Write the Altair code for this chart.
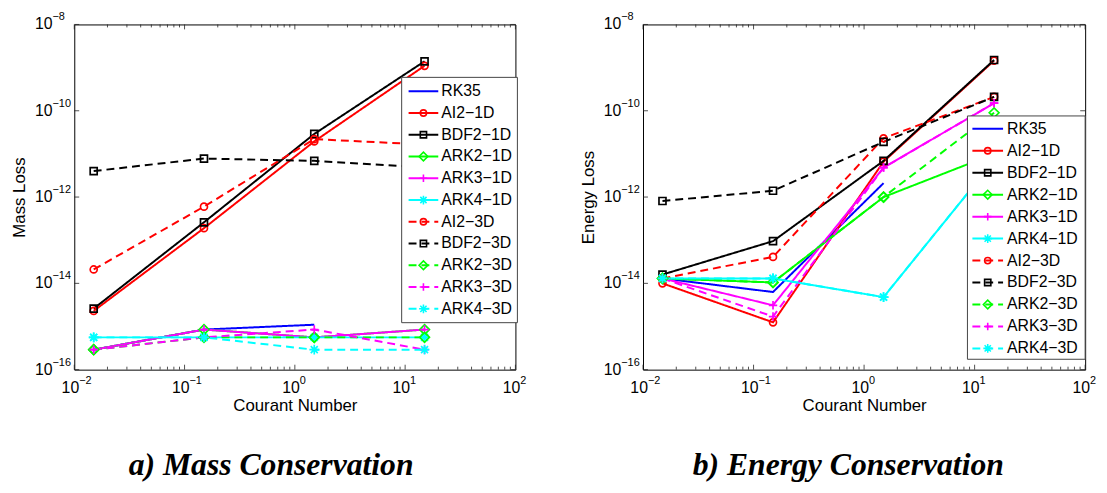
import altair as alt
import pandas as pd

# ---------------- data ----------------
COURANT = [0.015, 0.15, 1.5, 15]

SERIES = ["RK35", "AI2−1D", "BDF2−1D", "ARK2−1D", "ARK3−1D", "ARK4−1D",
          "AI2−3D", "BDF2−3D", "ARK2−3D", "ARK3−3D", "ARK4−3D"]

# Mass loss (panel a)
MASS_RK35 = [2.9e-16, 8.5e-16, 1.1e-15]
MASS_AI2_1D = [2.3e-15, 1.9e-13, 1.95e-11, 1.1e-9]
MASS_BDF2_1D = [2.6e-15, 2.6e-13, 2.9e-11, 1.4e-9]
MASS_ARK2_1D = [2.9e-16, 8.5e-16, 5.6e-16, 8.5e-16]
MASS_ARK3_1D = [2.9e-16, 8.5e-16, 5.6e-16, 8.5e-16]
MASS_ARK4_1D = [5.6e-16, 5.6e-16, 5.6e-16, 5.6e-16]
MASS_AI2_3D = [2.1e-14, 6.0e-13, 2.2e-11, 1.65e-11]
MASS_BDF2_3D = [4.0e-12, 7.8e-12, 6.9e-12, 4.9e-12]
MASS_ARK2_3D = [2.9e-16, 5.6e-16, 5.6e-16, 5.6e-16]
MASS_ARK3_3D = [2.9e-16, 5.6e-16, 8.5e-16, 2.9e-16]
MASS_ARK4_3D = [5.6e-16, 5.6e-16, 2.9e-16, 2.9e-16]

# Energy loss (panel b)
ENERGY_RK35 = [1.3e-14, 6.3e-15, 2.1e-12]
ENERGY_AI2_1D = [1.0e-14, 1.25e-15, 6.6e-12, 1.45e-9]
ENERGY_BDF2_1D = [1.6e-14, 9.5e-14, 6.9e-12, 1.5e-9]
ENERGY_ARK2_1D = [1.3e-14, 1.05e-14, 1.0e-12, 1.0e-11]
ENERGY_ARK3_1D = [1.3e-14, 3.1e-15, 4.8e-12, 1.5e-10]
ENERGY_ARK4_1D = [1.3e-14, 1.3e-14, 4.8e-15, 7.0e-12]
ENERGY_AI2_3D = [1.3e-14, 4.1e-14, 2.3e-11, 2.1e-10]
ENERGY_BDF2_3D = [8.1e-13, 1.4e-12, 1.9e-11, 2.1e-10]
ENERGY_ARK2_3D = [1.3e-14, 1.05e-14, 1.0e-12, 9.0e-11]
ENERGY_ARK3_3D = [1.3e-14, 1.7e-15, 4.8e-12, 1.5e-10]
ENERGY_ARK4_3D = [1.3e-14, 1.3e-14, 4.8e-15, 7.0e-12]

MASS = [MASS_RK35, MASS_AI2_1D, MASS_BDF2_1D, MASS_ARK2_1D, MASS_ARK3_1D, MASS_ARK4_1D,
        MASS_AI2_3D, MASS_BDF2_3D, MASS_ARK2_3D, MASS_ARK3_3D, MASS_ARK4_3D]
ENERGY = [ENERGY_RK35, ENERGY_AI2_1D, ENERGY_BDF2_1D, ENERGY_ARK2_1D, ENERGY_ARK3_1D, ENERGY_ARK4_1D,
          ENERGY_AI2_3D, ENERGY_BDF2_3D, ENERGY_ARK2_3D, ENERGY_ARK3_3D, ENERGY_ARK4_3D]

Y_TICKS = [1e-8, 1e-10, 1e-12, 1e-14, 1e-16]
Y_EXP = ["−8", "−10", "−12", "−14", "−16"]
X_TICKS = [0.01, 0.1, 1, 10, 100]
X_EXP = ["−2", "−1", "0", "1", "2"]
X_MINOR = [m * d for d in [0.01, 0.1, 1, 10] for m in range(2, 10)]

# ---------------- styles ----------------
COLORS = ["#0000ff", "#ff0000", "#000000", "#00ff00", "#ff00ff", "#00ffff",
          "#ff0000", "#000000", "#00ff00", "#ff00ff", "#00ffff"]
SOLID = [1, 0]
DASH = [8, 5]
DASHES = [SOLID] * 6 + [DASH] * 5
PLUS = "M-1.2,0L1.2,0M0,-1.2L0,1.2"
STAR = "M-1.4,0L1.4,0M0,-1.4L0,1.4M-1,-1L1,1M-1,1L1,-1"
DIAM = "M-1.4,0L0,-1.4L1.4,0L0,1.4Z"
SHAPES = ["circle", "circle", "square", DIAM, PLUS, STAR,
          "circle", "square", DIAM, PLUS, STAR]

SANS = "Liberation Sans"
SERIF = "Liberation Serif"


def panel(values, ytitle, title, W, H, box, row0, gap, sym, txt, title_dx):
    rows = []
    for s, vals in zip(SERIES, values):
        for c, v in zip(COURANT, vals):
            rows.append({"series": s, "c": c, "v": v})
    df = pd.DataFrame(rows)

    xs = alt.Scale(type="log", domain=[0.01, 100], nice=False)
    ys = alt.Scale(type="log", domain=[1e-16, 1e-8], nice=False)
    X = alt.X("c:Q", scale=xs,
              axis=alt.Axis(title="Courant Number", titleY=36, titleBaseline="middle",
                            labels=False, ticks=False, domain=False, grid=False))
    Y = alt.Y("v:Q", scale=ys,
              axis=alt.Axis(title=ytitle, titleX=-55, titleY=H / 2, titleBaseline="middle",
                            labels=False, ticks=False, domain=False, grid=False))
    color = alt.Color("series:N", scale=alt.Scale(domain=SERIES, range=COLORS), legend=None)
    dash = alt.StrokeDash("series:N", scale=alt.Scale(domain=SERIES, range=DASHES), legend=None)
    shape = alt.Shape("series:N", scale=alt.Scale(domain=SERIES, range=SHAPES), legend=None)

    lines = alt.Chart(df).mark_line(strokeWidth=2).encode(
        x=X, y=Y, color=color, strokeDash=dash, detail="series:N")
    pts = alt.Chart(df).transform_filter(alt.datum.series != "RK35").mark_point(
        filled=False, size=50, strokeWidth=1.7, opacity=1).encode(
        x=X, y=Y, color=color, shape=shape)

    # inward ticks
    xmaj = pd.DataFrame({"c": X_TICKS})
    xmin = pd.DataFrame({"c": X_MINOR})
    ymaj = pd.DataFrame({"v": Y_TICKS})
    tick_col = "#222222"
    ticks = [
        alt.Chart(xmaj).mark_rule(color=tick_col, strokeWidth=0.8).encode(
            x=X, y=alt.value(H), y2=alt.value(H - 5)),
        alt.Chart(xmaj).mark_rule(color=tick_col, strokeWidth=0.8).encode(
            x=X, y=alt.value(0), y2=alt.value(5)),
        alt.Chart(xmin).mark_rule(color=tick_col, strokeWidth=0.8).encode(
            x=X, y=alt.value(H), y2=alt.value(H - 3)),
        alt.Chart(xmin).mark_rule(color=tick_col, strokeWidth=0.8).encode(
            x=X, y=alt.value(0), y2=alt.value(3)),
        alt.Chart(ymaj).mark_rule(color=tick_col, strokeWidth=0.8).encode(
            y=Y, x=alt.value(0), x2=alt.value(5)),
        alt.Chart(ymaj).mark_rule(color=tick_col, strokeWidth=0.8).encode(
            y=Y, x=alt.value(W), x2=alt.value(W - 5)),
    ]

    # tick labels  10^n
    ylab = pd.DataFrame({"v": Y_TICKS, "exp": Y_EXP})
    xlab = pd.DataFrame({"c": X_TICKS, "exp": X_EXP})
    labels = [
        alt.Chart(ylab).mark_text(text="10", font=SANS, fontSize=16, align="right",
                                  baseline="middle", color="black").encode(
            y=Y, x=alt.value(-22)),
        alt.Chart(ylab).mark_text(font=SANS, fontSize=11, align="left",
                                  baseline="middle", dy=-7, color="black").encode(
            y=Y, x=alt.value(-22), text="exp:N"),
        alt.Chart(xlab).mark_text(text="10", font=SANS, fontSize=16, align="right",
                                  baseline="middle", dx=5, color="black").encode(
            x=X, y=alt.value(H + 19)),
        alt.Chart(xlab).mark_text(font=SANS, fontSize=11, align="left",
                                  baseline="middle", dx=5, color="black").encode(
            x=X, y=alt.value(H + 11), text="exp:N"),
    ]

    # legend box
    leg = pd.DataFrame({"series": SERIES, "idx": list(range(len(SERIES)))})
    LY = alt.Y("ly:Q", scale=None)
    box_df = pd.DataFrame({"k": [0]})
    legend = [
        alt.Chart(box_df).mark_rect(fill="white", stroke="#444444", strokeWidth=1).encode(
            x=alt.value(box[0]), x2=alt.value(box[1]), y=alt.value(box[2]), y2=alt.value(box[3])),
        alt.Chart(leg).transform_calculate(ly=f"{row0} + {gap} * datum.idx").mark_rule(
            strokeWidth=2).encode(
            x=alt.value(sym[0]), x2=alt.value(sym[1]), y=LY, color=color, strokeDash=dash),
        alt.Chart(leg).transform_filter(alt.datum.series != "RK35").transform_calculate(
            ly=f"{row0} + {gap} * datum.idx").mark_point(
            filled=False, size=40, strokeWidth=1.6, opacity=1).encode(
            x=alt.value((sym[0] + sym[1]) / 2), y=LY, color=color, shape=shape),
        alt.Chart(leg).transform_calculate(ly=f"{row0} + {gap} * datum.idx").mark_text(
            font=SANS, fontSize=16, align="left", baseline="middle", color="black").encode(
            x=alt.value(txt), y=LY, text="series:N"),
    ]

    return alt.layer(lines, pts, *ticks, *labels, *legend).properties(
        width=W, height=H,
        title=alt.TitleParams(title, orient="bottom", font=SERIF, fontSize=32,
                              fontStyle="italic", fontWeight="bold", color="black",
                              anchor="middle", dx=title_dx, offset=38),
    )


left = panel(MASS, "Mass Loss", "a) Mass Conservation", 446, 349,
             box=(331, 448, 53.5, 301.5), row0=67.5, gap=22, sym=(338, 368), txt=371, title_dx=-24)
right = panel(ENERGY, "Energy Loss", "b) Energy Conservation", 447, 349,
              box=(328, 447, 92.5, 338.5), row0=105.5, gap=22.2, sym=(333, 364), txt=368, title_dx=-16)

chart = alt.hconcat(left, right, spacing=129, bounds="flush").properties(
    padding={"left": 2, "top": 0, "right": 2, "bottom": 2},
    background="white",
).configure_view(stroke="black", strokeWidth=1).configure_axis(
    titleFont=SANS, titleFontSize=17, titleFontWeight="normal", titleColor="black"
)

chart.save("out.html", embed_options={"renderer": "svg", "actions": False})
